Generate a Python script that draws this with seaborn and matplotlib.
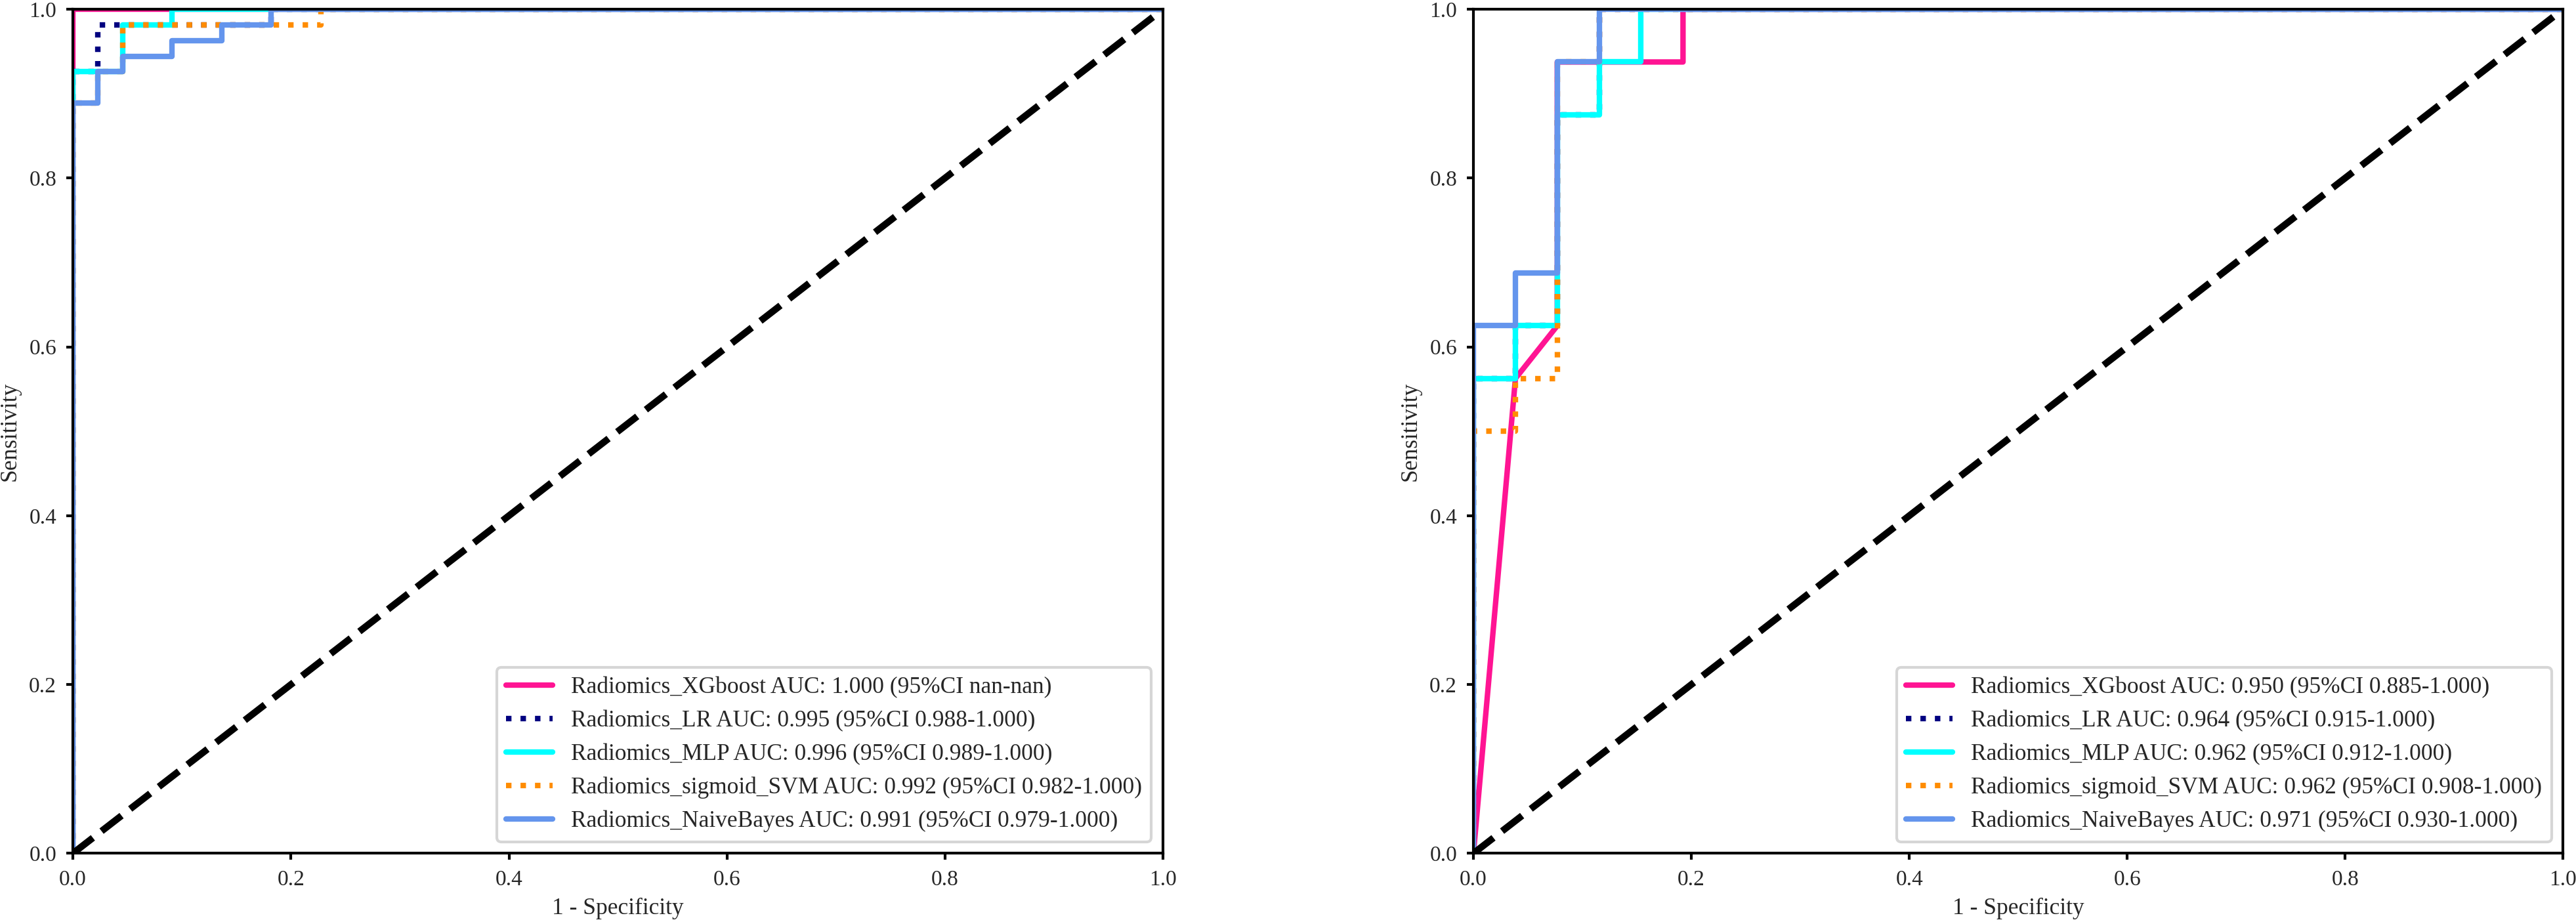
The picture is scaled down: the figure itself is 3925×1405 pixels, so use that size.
"""
ROC curves for the radiomics models, train (left) and test (right) cohorts.
"""

import numpy as np
import pandas as pd
import seaborn as sns
import matplotlib
matplotlib.use("Agg")
import matplotlib.pyplot as plt

# model names / styles in drawing order
models = ["Radiomics_XGboost", "Radiomics_LR", "Radiomics_MLP",
          "Radiomics_sigmoid_SVM", "Radiomics_NaiveBayes"]
colors = ["#FF1493", "navy", "aqua", "darkorange", "cornflowerblue"]
styles = ["-", ":", "-", ":", "-"]

# left panel (train)
train_auc = ["1.000", "0.995", "0.996", "0.992", "0.991"]
train_ci = ["nan-nan", "0.988-1.000", "0.989-1.000", "0.982-1.000", "0.979-1.000"]
train_fpr = [
    [0.0, 0.0, 1.0],
    [0.0, 0.0, 0.0227, 0.0227, 0.1818, 0.1818, 1.0],
    [0.0, 0.0, 0.0227, 0.0455, 0.0455, 0.0909, 0.0909, 1.0],
    [0.0, 0.0, 0.0227, 0.0227, 0.0455, 0.0455, 0.2273, 0.2273, 1.0],
    [0.0, 0.0, 0.0227, 0.0227, 0.0455, 0.0455, 0.0909, 0.0909,
     0.1364, 0.1364, 0.1818, 0.1818, 1.0],
]
train_tpr = [
    [0.0, 1.0, 1.0],
    [0.0, 0.9259, 0.9259, 0.9815, 0.9815, 1.0, 1.0],
    [0.0, 0.9259, 0.9259, 0.9259, 0.9815, 0.9815, 1.0, 1.0],
    [0.0, 0.8889, 0.8889, 0.9259, 0.9259, 0.9815, 0.9815, 1.0, 1.0],
    [0.0, 0.8889, 0.8889, 0.9259, 0.9259, 0.9444, 0.9444, 0.9630,
     0.9630, 0.9815, 0.9815, 1.0, 1.0],
]

# right panel (test)
test_auc = ["0.950", "0.964", "0.962", "0.962", "0.971"]
test_ci = ["0.885-1.000", "0.915-1.000", "0.912-1.000", "0.908-1.000", "0.930-1.000"]
test_fpr = [
    [0.0, 0.0385, 0.0769, 0.0769, 0.1923, 0.1923, 1.0],
    [0.0, 0.0, 0.0385, 0.0385, 0.0769, 0.0769, 0.1154, 0.1154, 1.0],
    [0.0, 0.0, 0.0385, 0.0385, 0.0769, 0.0769, 0.1154, 0.1154, 0.1538, 0.1538, 1.0],
    [0.0, 0.0, 0.0385, 0.0385, 0.0769, 0.0769, 0.1154, 0.1154, 1.0],
    [0.0, 0.0, 0.0385, 0.0385, 0.0769, 0.0769, 0.1154, 0.1154, 1.0],
]
test_tpr = [
    [0.0, 0.5625, 0.625, 0.9375, 0.9375, 1.0, 1.0],
    [0.0, 0.5625, 0.5625, 0.625, 0.625, 0.875, 0.875, 1.0, 1.0],
    [0.0, 0.5625, 0.5625, 0.625, 0.625, 0.875, 0.875, 0.9375, 0.9375, 1.0, 1.0],
    [0.0, 0.5, 0.5, 0.5625, 0.5625, 0.9375, 0.9375, 1.0, 1.0],
    [0.0, 0.625, 0.625, 0.6875, 0.6875, 0.9375, 0.9375, 1.0, 1.0],
]

ticks = [0.0, 0.2, 0.4, 0.6, 0.8, 1.0]

sns.set_style("ticks")
plt.rcParams["font.family"] = ["Liberation Serif", "DejaVu Serif"]


def draw_roc(ax, fprs, tprs, aucs, cis):
    for name, col, ls, fpr, tpr, auc, ci in zip(models, colors, styles, fprs, tprs, aucs, cis):
        df = pd.DataFrame({"fpr": fpr, "tpr": tpr})
        sns.lineplot(data=df, x="fpr", y="tpr", ax=ax, color=col, linestyle=ls,
                     lw=2, estimator=None, sort=False,
                     label=f"{name} AUC: {auc} (95%CI {ci})")
    # chance line
    sns.lineplot(x=[0, 1], y=[0, 1], ax=ax, color="black", linestyle="--", lw=2.5,
                 estimator=None, sort=False)
    ax.set_xlim(0, 1)
    ax.set_ylim(0, 1)
    ax.set_xticks(ticks)
    ax.set_yticks(ticks)
    ax.tick_params(labelsize=8, width=1, length=2.5, color="black")
    for sp in ax.spines.values():
        sp.set_color("black")
        sp.set_linewidth(1)
    ax.set_xlabel("1 - Specificity", fontsize=8.5, labelpad=3)
    ax.set_ylabel("Sensitivity", fontsize=8.5, labelpad=3)
    ax.legend(loc="lower right", fontsize=8.5)


fig = plt.figure(figsize=(3925 / 300, 1405 / 300), dpi=300)
ax1 = fig.add_axes([0.0283, 0.0745, 0.4232, 0.9155])
ax2 = fig.add_axes([0.5720, 0.0745, 0.4230, 0.9155])

draw_roc(ax1, train_fpr, train_tpr, train_auc, train_ci)
draw_roc(ax2, test_fpr, test_tpr, test_auc, test_ci)

fig.savefig("out.png", dpi=300)
